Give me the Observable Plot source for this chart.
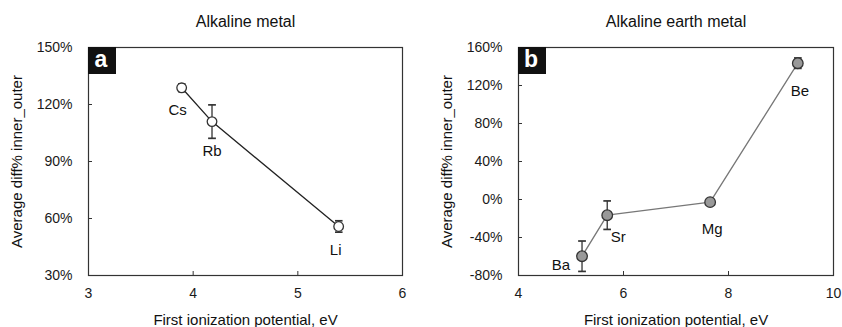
<!DOCTYPE html>
<html>
<head>
<meta charset="utf-8">
<script src="https://cdn.jsdelivr.net/npm/d3@7"></script>
<script src="https://cdn.jsdelivr.net/npm/@observablehq/plot@0.6"></script>
<style>
  html, body { margin: 0; padding: 0; background: #fff; }
  #wrap { display: flex; width: 842px; height: 327px; }
</style>
</head>
<body>
<div id="wrap"></div>
<script>
// ---- Data ----
const alkaliElements = ["Cs", "Rb", "Li"];
const alkaliIP = [3.89, 4.18, 5.39];
const alkaliValue = [128.8, 111.0, 55.8];
const alkaliErr = [2.0, 8.8, 3.0];

const earthElements = ["Ba", "Sr", "Mg", "Be"];
const earthIP = [5.21, 5.69, 7.65, 9.32];
const earthValue = [-59.7, -16.5, -2.8, 143.5];
const earthErr = [16.0, 15.0, 1.5, 5.5];

const alkaliYTicks = [30, 60, 90, 120, 150];
const alkaliXTicks = [3, 4, 5, 6];
const earthYTicks = [-80, -40, 0, 40, 80, 120, 160];
const earthXTicks = [4, 6, 8, 10];

const panelTitles = ["Alkaline metal", "Alkaline earth metal"];
const panelLetters = ["a", "b"];
const xLabel = "First ionization potential, eV";
const yLabel = "Average diff% inner_outer";

// ---- Label placement (styling only) ----
const alkaliLabelOffset = {Cs: [-4, 22], Rb: [0, 30], Li: [-3, 24]};
const earthLabelOffset = {Ba: [-21, 9], Sr: [11, 22], Mg: [2, 27], Be: [2, 28]};

const font = "'Liberation Sans', Arial, Helvetica, sans-serif";

function rows(names, xs, ys, es) {
  return names.map((n, i) => ({name: n, x: xs[i], y: ys[i], lo: ys[i] - es[i], hi: ys[i] + es[i]}));
}

function letterBox(letter) {
  return (index, scales, values, dims) => {
    const g = d3.create("svg:g");
    g.append("rect")
      .attr("x", dims.marginLeft).attr("y", dims.marginTop)
      .attr("width", 28).attr("height", 27).attr("fill", "#111");
    g.append("text")
      .attr("x", dims.marginLeft + 13).attr("y", dims.marginTop + 20)
      .attr("text-anchor", "middle").attr("fill", "#fff")
      .attr("font-weight", "bold").attr("font-size", 23)
      .attr("font-family", font)
      .text(letter);
    return g.node();
  };
}

function panel({data, xDomain, yDomain, xTicks, yTicks, title, letter, offsets, marginLeft, marginRight, lineColor, dotFill, r}) {
  return Plot.plot({
    width: 421,
    height: 327,
    marginLeft, marginRight,
    marginTop: 47,
    marginBottom: 52,
    style: {fontFamily: font, fontSize: "14px", color: "#1a1a1a", background: "#fff"},
    x: {domain: xDomain},
    y: {domain: yDomain},
    marks: [
      Plot.frame({stroke: "#333", strokeWidth: 1.2}),
      Plot.axisX({ticks: xTicks, tickSize: -4, tickPadding: 17, tickFormat: d => String(d), label: null, stroke: "#333"}),
      Plot.axisY({ticks: yTicks, tickSize: -4, tickPadding: 20, tickFormat: d => d + "%", label: null, stroke: "#333"}),
      Plot.line(data, {x: "x", y: "y", stroke: lineColor, strokeWidth: 1.3}),
      Plot.link(data, {x1: "x", x2: "x", y1: "lo", y2: "hi", stroke: "#333", strokeWidth: 1.3, marker: "tick"}),
      Plot.dot(data, {x: "x", y: "y", r, fill: dotFill, stroke: "#333", strokeWidth: 1.3}),
      ...data.map(d => Plot.text([d], {x: "x", y: "y", text: "name", dx: offsets[d.name][0], dy: offsets[d.name][1], fontSize: 15, fill: "#111"})),
      Plot.text([title], {frameAnchor: "top", lineAnchor: "middle", dy: -26, fontSize: 16, fill: "#111"}),
      Plot.text([xLabel], {frameAnchor: "bottom", lineAnchor: "middle", dy: 45, fontSize: 15, fill: "#111"}),
      Plot.text([yLabel], {frameAnchor: "left", textAnchor: "middle", lineAnchor: "middle", dx: -71, rotate: -90, fontSize: 15, fill: "#111"}),
      letterBox(letter)
    ]
  });
}

const wrap = document.getElementById("wrap");
wrap.append(panel({
  data: rows(alkaliElements, alkaliIP, alkaliValue, alkaliErr),
  xDomain: [3, 6], yDomain: [30, 150],
  xTicks: alkaliXTicks, yTicks: alkaliYTicks,
  title: panelTitles[0], letter: panelLetters[0],
  offsets: alkaliLabelOffset,
  marginLeft: 88, marginRight: 19,
  lineColor: "#222", dotFill: "#fff", r: 4.8
}));
wrap.append(panel({
  data: rows(earthElements, earthIP, earthValue, earthErr),
  xDomain: [4, 10], yDomain: [-80, 160],
  xTicks: earthXTicks, yTicks: earthYTicks,
  title: panelTitles[1], letter: panelLetters[1],
  offsets: earthLabelOffset,
  marginLeft: 97, marginRight: 9,
  lineColor: "#777", dotFill: "#999", r: 5.3
}));
</script>
</body>
</html>
